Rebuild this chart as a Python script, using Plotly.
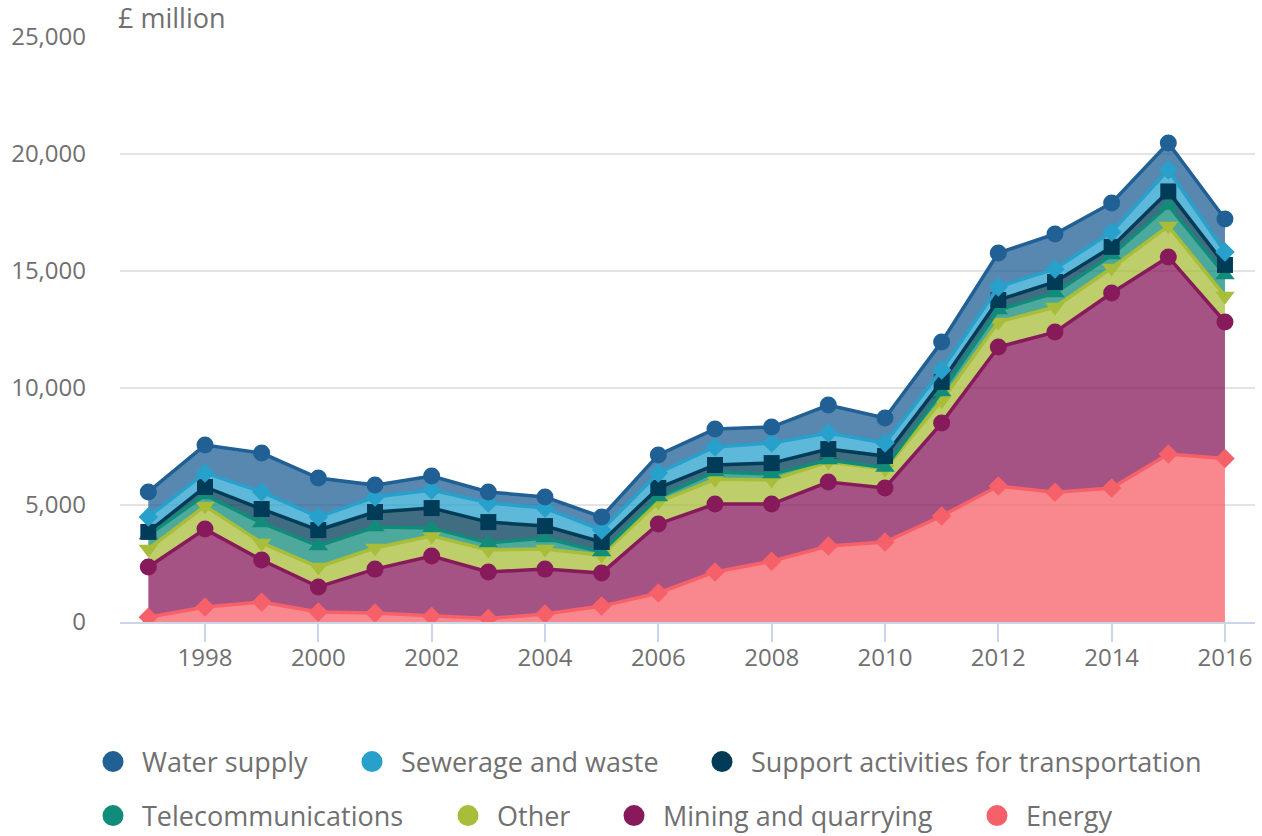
import plotly.graph_objects as go

years = list(range(1997, 2017))

energy = [200, 640, 850, 430, 380, 250, 150, 340, 680, 1240, 2140, 2600, 3250, 3420, 4530, 5810, 5550, 5730, 7180, 6990]
mining = [2150, 3330, 1800, 1070, 1880, 2570, 1990, 1920, 1410, 2950, 2900, 2440, 2730, 2310, 3970, 5940, 6840, 8330, 8420, 5830]
other = [770, 990, 730, 850, 900, 860, 940, 860, 770, 940, 1060, 1030, 860, 810, 960, 1070, 1070, 1070, 1320, 1110]
telecom = [600, 470, 850, 900, 900, 340, 300, 470, 130, 210, 310, 250, 80, 60, 370, 510, 600, 550, 880, 900]
support = [130, 340, 600, 680, 640, 850, 890, 510, 430, 390, 300, 470, 470, 490, 430, 430, 470, 350, 600, 430]
sewerage = [640, 600, 730, 560, 640, 770, 820, 770, 510, 640, 770, 860, 690, 560, 510, 560, 560, 640, 920, 550]
water = [1070, 1190, 1660, 1660, 510, 600, 470, 470, 560, 770, 770, 680, 1190, 1070, 1200, 1450, 1490, 1240, 1150, 1410]

series = [
    ("Energy", energy, "#F66068", "diamond", 15),
    ("Mining and quarrying", mining, "#871A5B", "circle", 17),
    ("Other", other, "#A8BD3A", "triangle-down", 17),
    ("Telecommunications", telecom, "#118C7B", "triangle-up", 17),
    ("Support activities for transportation", support, "#003C57", "square", 16),
    ("Sewerage and waste", sewerage, "#27A0CC", "diamond", 15),
    ("Water supply", water, "#206095", "circle", 17),
]

# legend layout: (name, circle centre x in page px, row centre y in page px)
legend_items = [
    ("Water supply", 113, 762),
    ("Sewerage and waste", 372, 762),
    ("Support activities for transportation", 722, 762),
    ("Telecommunications", 113, 816),
    ("Other", 468, 816),
    ("Mining and quarrying", 634, 816),
    ("Energy", 997, 816),
]


def rgba(h, a):
    h = h.lstrip("#")
    r, g, b = int(h[0:2], 16), int(h[2:4], 16), int(h[4:6], 16)
    return f"rgba({r},{g},{b},{a})"


FONT = "Open Sans"
TXT = "#707070"
W, H = 1262, 836

fig = go.Figure()
for name, vals, col, sym, sz in series:
    fig.add_trace(go.Scatter(
        x=years, y=vals, name=name, stackgroup="one", mode="lines+markers",
        line=dict(color=col, width=3.5),
        marker=dict(symbol=sym, size=sz, color=col),
        fillcolor=rgba(col, 0.75), showlegend=False, hoverinfo="x+y+name",
    ))

lookup = {s[0]: s[2] for s in series}
legends = {}
for i, (name, cx, cy) in enumerate(legend_items):
    key = "legend" if i == 0 else f"legend{i + 1}"
    col = lookup[name]
    fig.add_trace(go.Scatter(
        x=[None], y=[None], name=name, mode="markers",
        marker=dict(symbol="circle", size=16, color=col, line=dict(color=col, width=5)),
        legend=key, showlegend=True))
    legends[key] = dict(
        orientation="h", bgcolor="rgba(0,0,0,0)", borderwidth=0,
        font=dict(family=FONT, size=27, color=TXT), itemwidth=48, itemclick=False,
        xref="container", yref="container",
        x=(cx - 29) / W, y=1 - cy / H,
        xanchor="left", yanchor="middle")

fig.update_layout(
    width=W, height=H,
    margin=dict(l=120, r=7, t=37, b=214),
    paper_bgcolor="white", plot_bgcolor="white",
    font=dict(family=FONT, size=24, color=TXT),
    xaxis=dict(range=[1996.5, 2016.53], tick0=1998, dtick=2, showgrid=False,
               showline=True, linecolor="#cbd5e8", linewidth=2,
               ticks="outside", ticklen=18, tickwidth=2, tickcolor="#cbd5e8",
               ticklabelstandoff=-5,
               tickfont=dict(family=FONT, size=24, color=TXT), zeroline=False),
    yaxis=dict(range=[0, 25000], dtick=5000, tickformat=",", showgrid=True,
               gridcolor="#e3e3e3", gridwidth=2, zeroline=False, showline=False,
               ticks="", ticklabelstandoff=33,
               tickfont=dict(family=FONT, size=24, color=TXT)),
    annotations=[dict(text="£ million", xref="paper", yref="paper", x=0, y=1,
                      xanchor="left", yanchor="bottom", yshift=-1, xshift=-4,
                      showarrow=False,
                      font=dict(family=FONT, size=27, color=TXT))],
    **legends,
)

fig.write_html("out.html", config={"displayModeBar": False},
               post_script="document.body.style.margin='0';document.body.style.overflow='hidden';")
